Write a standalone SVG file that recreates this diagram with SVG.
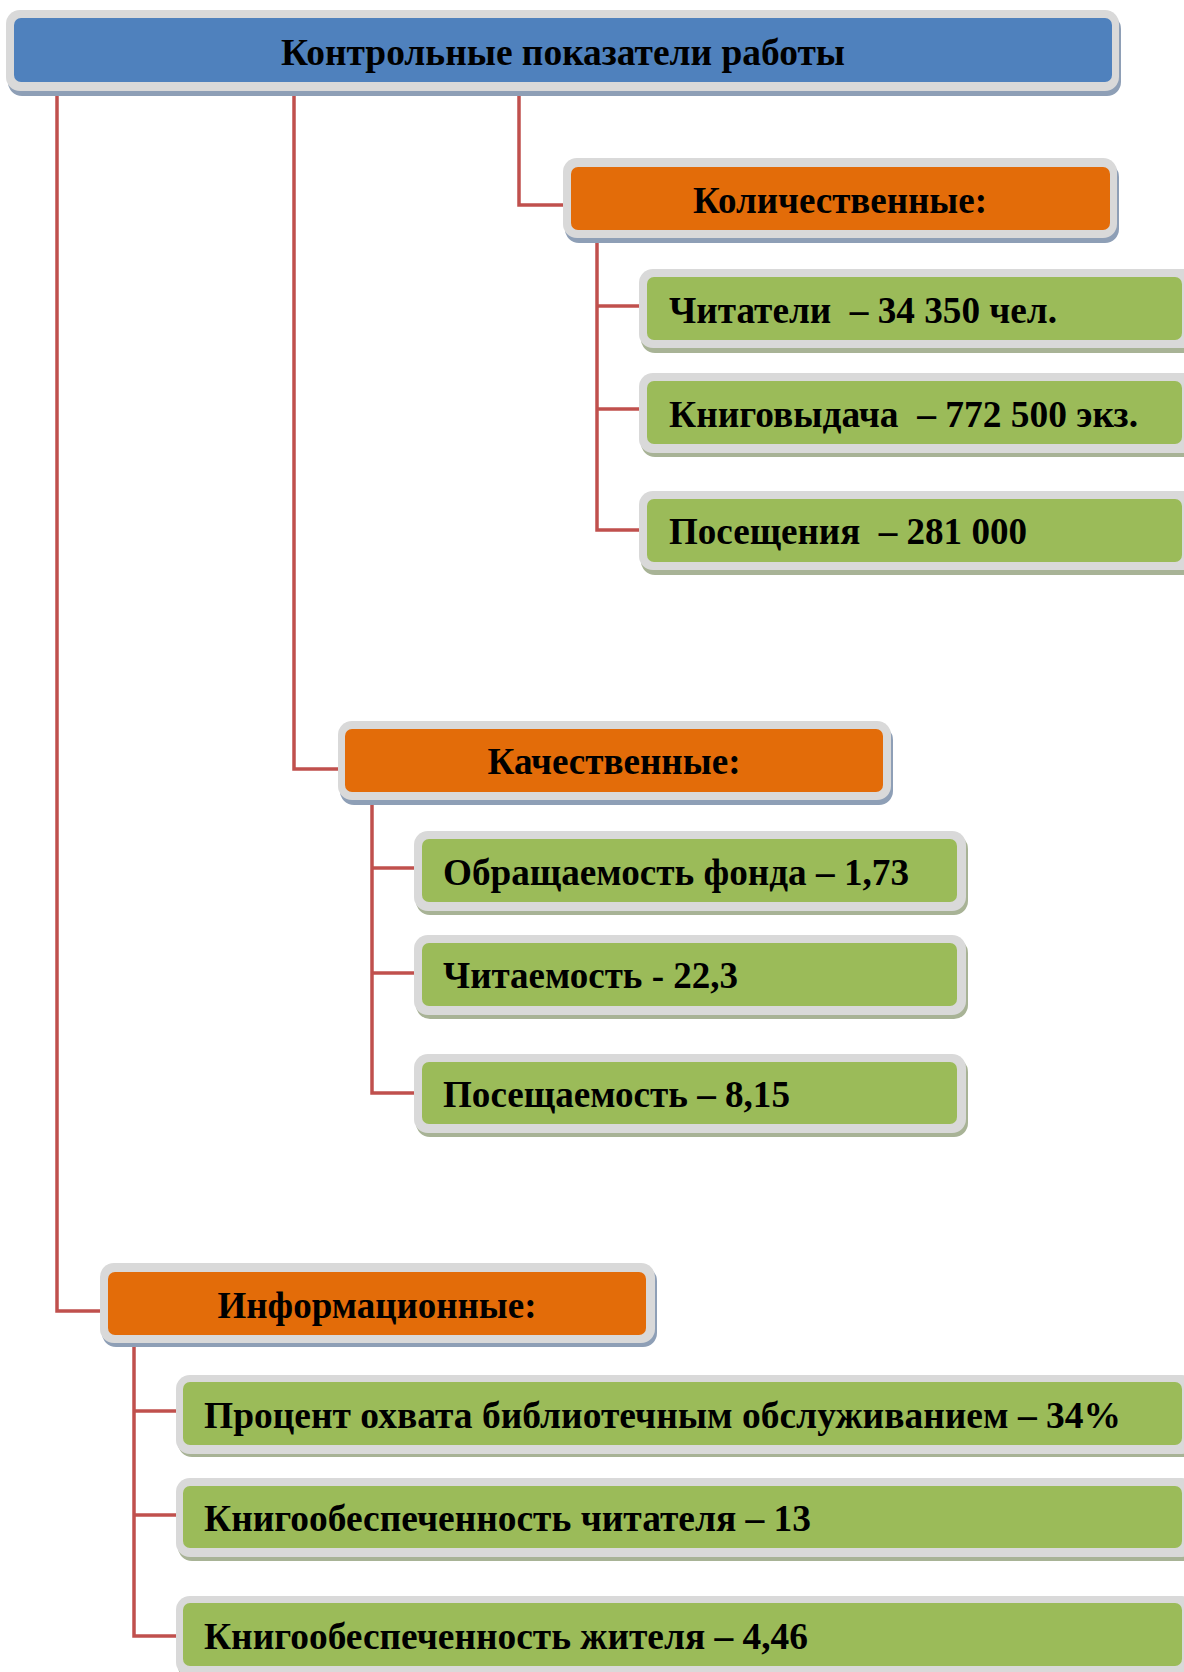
<svg xmlns="http://www.w3.org/2000/svg" width="1184" height="1672" viewBox="0 0 1184 1672">
<style>
  .frame { fill: #D9D9D9; }
  .shb { fill: #8E9FB6; }
  .shg { fill: #A8B396; }
  .blue { fill: #4F81BD; }
  .orange { fill: #E36C09; }
  .green { fill: #9BBB59; }
  .conn { fill: none; stroke: #C0504D; stroke-width: 3.5; stroke-linejoin: miter; }
  text { font-family: "Liberation Serif", "Times New Roman", serif; font-weight: bold; font-size: 38px; fill: #000; }
  .c { text-anchor: middle; }
</style>
<rect width="1184" height="1672" fill="#FFFFFF"/>
<g id="connectors">
  <polyline class="conn" points="57,87 57,1311 100,1311"/>
  <polyline class="conn" points="294,91 294,769 338,769"/>
  <polyline class="conn" points="519,91 519,205 563,205"/>
  <polyline class="conn" points="597,238 597,530 639,530"/>
  <line class="conn" x1="597" y1="306" x2="639" y2="306"/>
  <line class="conn" x1="597" y1="409" x2="639" y2="409"/>
  <polyline class="conn" points="372,800 372,1093 414,1093"/>
  <line class="conn" x1="372" y1="868" x2="414" y2="868"/>
  <line class="conn" x1="372" y1="973" x2="414" y2="973"/>
  <polyline class="conn" points="134,1343 134,1636 176,1636"/>
  <line class="conn" x1="134" y1="1411" x2="176" y2="1411"/>
  <line class="conn" x1="134" y1="1515" x2="176" y2="1515"/>
</g>
<g id="header">
  <rect class="shb" x="8" y="15" width="1113" height="81" rx="14"/>
  <rect class="frame" x="6" y="10" width="1113" height="81" rx="14"/>
  <rect class="blue" x="14" y="18" width="1098" height="64" rx="7"/>
  <text class="c" x="563" y="65" textLength="564" lengthAdjust="spacingAndGlyphs">Контрольные показатели работы</text>
</g>
<g id="quant">
  <rect class="shb" x="565" y="163" width="554" height="80" rx="14"/>
  <rect class="frame" x="563" y="158" width="554" height="80" rx="14"/>
  <rect class="orange" x="571" y="167" width="539" height="63" rx="7"/>
  <text class="c" x="840" y="213" textLength="294" lengthAdjust="spacingAndGlyphs">Количественные:</text>
</g>
<g id="q1">
  <rect class="shg" x="641" y="273" width="560" height="80" rx="14"/>
  <rect class="frame" x="639" y="269" width="560" height="79" rx="14"/>
  <rect class="green" x="647" y="277" width="535" height="63" rx="7"/>
  <text x="669" y="323" xml:space="preserve" textLength="388" lengthAdjust="spacingAndGlyphs">Читатели  – 34 350 чел.</text>
</g>
<g id="q2">
  <rect class="shg" x="641" y="377" width="560" height="80" rx="14"/>
  <rect class="frame" x="639" y="373" width="560" height="80" rx="14"/>
  <rect class="green" x="647" y="381" width="535" height="63" rx="7"/>
  <text x="669" y="427" xml:space="preserve" textLength="469" lengthAdjust="spacingAndGlyphs">Книговыдача  – 772 500 экз.</text>
</g>
<g id="q3">
  <rect class="shg" x="641" y="495" width="560" height="80" rx="14"/>
  <rect class="frame" x="639" y="491" width="560" height="79" rx="14"/>
  <rect class="green" x="647" y="499" width="535" height="63" rx="7"/>
  <text x="669" y="544" xml:space="preserve" textLength="358" lengthAdjust="spacingAndGlyphs">Посещения  – 281 000</text>
</g>
<g id="qual">
  <rect class="shb" x="340" y="726" width="553" height="79" rx="14"/>
  <rect class="frame" x="338" y="721" width="553" height="79" rx="14"/>
  <rect class="orange" x="345" y="729" width="538" height="63" rx="7"/>
  <text class="c" x="614" y="774" textLength="253" lengthAdjust="spacingAndGlyphs">Качественные:</text>
</g>
<g id="k1">
  <rect class="shg" x="416" y="835" width="552" height="80" rx="14"/>
  <rect class="frame" x="414" y="831" width="552" height="80" rx="14"/>
  <rect class="green" x="422" y="839" width="535" height="63" rx="7"/>
  <text x="443" y="885" textLength="466" lengthAdjust="spacingAndGlyphs">Обращаемость фонда – 1,73</text>
</g>
<g id="k2">
  <rect class="shg" x="416" y="939" width="552" height="80" rx="14"/>
  <rect class="frame" x="414" y="935" width="552" height="80" rx="14"/>
  <rect class="green" x="422" y="943" width="535" height="63" rx="7"/>
  <text x="443" y="988" textLength="295" lengthAdjust="spacingAndGlyphs">Читаемость - 22,3</text>
</g>
<g id="k3">
  <rect class="shg" x="416" y="1058" width="552" height="79" rx="14"/>
  <rect class="frame" x="414" y="1054" width="552" height="79" rx="14"/>
  <rect class="green" x="422" y="1062" width="535" height="62" rx="7"/>
  <text x="443" y="1107" textLength="347" lengthAdjust="spacingAndGlyphs">Посещаемость – 8,15</text>
</g>
<g id="info">
  <rect class="shb" x="102" y="1267" width="555" height="80" rx="14"/>
  <rect class="frame" x="100" y="1263" width="555" height="80" rx="14"/>
  <rect class="orange" x="108" y="1272" width="538" height="63" rx="7"/>
  <text class="c" x="377" y="1318" textLength="319" lengthAdjust="spacingAndGlyphs">Информационные:</text>
</g>
<g id="i1">
  <rect class="shg" x="178" y="1378" width="1020" height="79" rx="14"/>
  <rect class="frame" x="176" y="1375" width="1020" height="79" rx="14"/>
  <rect class="green" x="183" y="1382" width="999" height="63" rx="7"/>
  <text x="204" y="1428" textLength="917" lengthAdjust="spacingAndGlyphs">Процент охвата библиотечным обслуживанием – 34%</text>
</g>
<g id="i2">
  <rect class="shg" x="178" y="1482" width="1020" height="79" rx="14"/>
  <rect class="frame" x="176" y="1478" width="1020" height="79" rx="14"/>
  <rect class="green" x="183" y="1486" width="999" height="62" rx="7"/>
  <text x="204" y="1531" textLength="607" lengthAdjust="spacingAndGlyphs">Книгообеспеченность читателя – 13</text>
</g>
<g id="i3">
  <rect class="shg" x="178" y="1600" width="1020" height="80" rx="14"/>
  <rect class="frame" x="176" y="1596" width="1020" height="80" rx="14"/>
  <rect class="green" x="183" y="1603" width="999" height="63" rx="7"/>
  <text x="204" y="1649" textLength="604" lengthAdjust="spacingAndGlyphs">Книгообеспеченность жителя – 4,46</text>
</g>
</svg>
